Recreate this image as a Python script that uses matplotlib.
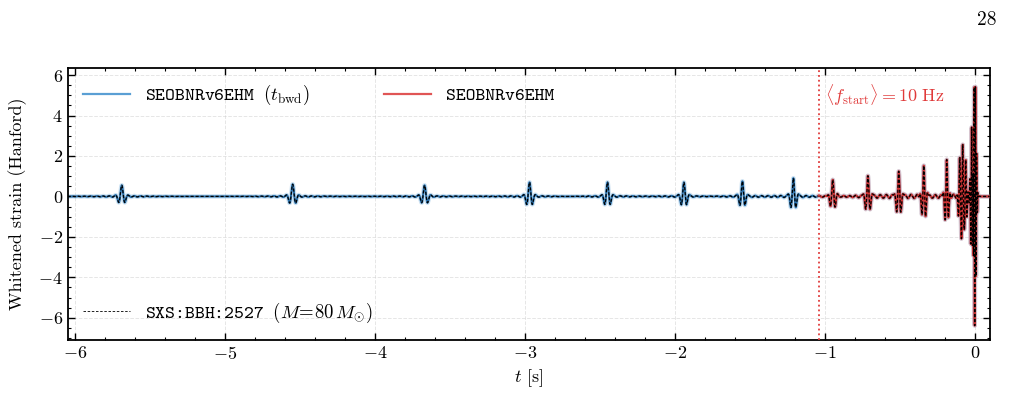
import numpy as np
import matplotlib
matplotlib.use("Agg")
import matplotlib.pyplot as plt
from matplotlib.lines import Line2D

# burst parameters: time [s], peak amplitude, frequency [Hz], width [s]
burst_t = [-5.69, -4.55, -3.67, -2.97, -2.45, -1.94, -1.55, -1.21,
           -0.947, -0.713, -0.507, -0.34, -0.187, -0.10, -0.08, -0.06, -0.02, 0.0]
burst_amp = [0.55, 0.6, 0.55, 0.7, 0.7, 0.7, 0.75, 0.9,
             0.85, 1.0, 1.2, 1.5, 1.8, 1.8, 2.6, 1.7, 3.1, -6.2]
burst_freq = [22, 22, 23, 24, 25, 26, 27, 28,
              30, 32, 34, 38, 42, 50, 56, 62, 80, 120]
burst_width = [0.026, 0.026, 0.026, 0.025, 0.024, 0.024, 0.023, 0.023,
               0.022, 0.021, 0.02, 0.018, 0.016, 0.012, 0.011, 0.011, 0.011, 0.012]

f_start_time = -1.04
t_min, t_max = -6.1, 0.1
fs = 4096

plt.rcParams.update({
    "font.family": "serif",
    "font.serif": ["cmr10"],
    "mathtext.fontset": "cm",
    "axes.formatter.use_mathtext": True,
    "axes.unicode_minus": True,
    "font.size": 13,
    "xtick.direction": "in",
    "ytick.direction": "in",
    "xtick.top": True,
    "ytick.right": True,
    "xtick.major.size": 5,
    "ytick.major.size": 5,
    "xtick.minor.size": 2.5,
    "ytick.minor.size": 2.5,
    "xtick.major.width": 1.0,
    "ytick.major.width": 1.0,
    "xtick.minor.width": 0.8,
    "ytick.minor.width": 0.8,
    "axes.linewidth": 1.3,
})

# build the whitened waveform from the bursts
t = np.arange(t_min, t_max, 1.0 / fs)
h = np.zeros_like(t)
for t0, a, f, w in zip(burst_t, burst_amp, burst_freq, burst_width):
    dt = t - t0
    env = np.exp(-(dt / w) ** 2)
    # faint ringing around each burst
    ripple = 0.07 * np.exp(-np.abs(dt) / 0.18) * (1 - env)
    h += a * env * np.cos(2 * np.pi * f * dt)
    h += abs(a) * ripple * np.cos(2 * np.pi * 24 * dt) / max(abs(a), 1.0)
# ringdown after merger dies quickly
late = t > 0.015
h[late] *= np.exp(-(t[late] - 0.015) / 0.008)

red_mask = t >= f_start_time

fig = plt.figure(figsize=(10.12, 4.0), dpi=100)
ax = fig.add_axes([0.067, 0.15, 0.911, 0.68])

ax.plot(t, h, color="#5a9fd4", lw=3.2, alpha=0.3, zorder=2)
ax.plot(t, h, color="#2a70aa", lw=1.5, zorder=2)
ax.plot(t[red_mask], h[red_mask], color="#e88888", lw=3.2, alpha=0.35, zorder=3)
ax.plot(t[red_mask], h[red_mask], color="#d43434", lw=1.5, zorder=3)
ax.plot(t, h, color="black", lw=0.9, ls=(0, (2.5, 1.5)), zorder=4)

ax.axvline(f_start_time, color="#e03a3a", ls=":", lw=1.3, zorder=5)
ax.text(f_start_time + 0.04, 5.0, r"$\langle f_{\rm start}\rangle = 10\ {\rm Hz}$",
        color="#e03a3a", fontsize=13, va="center", ha="left")

ax.set_xlim(-6.05, 0.1)
ax.set_ylim(-7.1, 6.35)
ax.set_xticks([-6, -5, -4, -3, -2, -1, 0])
ax.set_yticks([-6, -4, -2, 0, 2, 4, 6])
ax.xaxis.set_minor_locator(matplotlib.ticker.MultipleLocator(0.2))
ax.yaxis.set_minor_locator(matplotlib.ticker.MultipleLocator(0.5))
ax.grid(True, ls="--", color="#cccccc", lw=0.7, alpha=0.5)
ax.set_axisbelow(True)

ax.set_xlabel(r"$t$ [s]")
ax.set_ylabel("Whitened strain (Hanford)", labelpad=8)

tt_font = {"family": "cmtt10", "size": 13.5}
h1 = Line2D([], [], color="#5a9fd4", lw=1.6)
h2 = Line2D([], [], color="#e05555", lw=1.6)
leg1 = ax.legend([h1, h2], [r"SEOBNRv6EHM $(t_{\rm bwd})$", "SEOBNRv6EHM"],
                 loc="upper left", ncol=2, frameon=False, prop=tt_font,
                 handlelength=2.5, columnspacing=4.0, borderaxespad=0.4)
ax.add_artist(leg1)
h3 = Line2D([], [], color="black", lw=0.6, ls=(0, (3, 2)))
ax.legend([h3], [r"SXS:BBH:2527 $(M\!=\!80\,M_{\odot})$"],
          loc="lower left", frameon=False, prop=tt_font, handlelength=2.5, borderaxespad=0.4)

fig.text(0.985, 0.95, "28", fontsize=14, ha="right", va="center")

fig.savefig("out.png", dpi=100)
